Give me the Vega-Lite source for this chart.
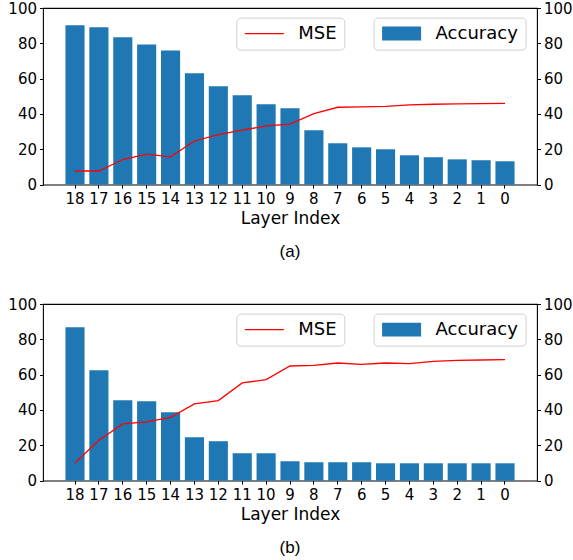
{
  "$schema": "https://vega.github.io/schema/vega-lite/v6.json",
  "padding": {"left": 7, "top": 0, "right": 0, "bottom": 0},
  "background": "white",
  "datasets": {
    "a": [
      {"layer": 18, "acc": 90.2, "mse": 7.7},
      {"layer": 17, "acc": 89.1, "mse": 7.7},
      {"layer": 16, "acc": 83.4, "mse": 14.2},
      {"layer": 15, "acc": 79.4, "mse": 17.2},
      {"layer": 14, "acc": 76.0, "mse": 15.7},
      {"layer": 13, "acc": 63.0, "mse": 24.7},
      {"layer": 12, "acc": 55.7, "mse": 28.3},
      {"layer": 11, "acc": 50.6, "mse": 30.8},
      {"layer": 10, "acc": 45.5, "mse": 33.2},
      {"layer": 9, "acc": 43.2, "mse": 34.3},
      {"layer": 8, "acc": 30.8, "mse": 40.2},
      {"layer": 7, "acc": 23.4, "mse": 43.8},
      {"layer": 6, "acc": 21.1, "mse": 44.0},
      {"layer": 5, "acc": 20.0, "mse": 44.3},
      {"layer": 4, "acc": 16.6, "mse": 45.1},
      {"layer": 3, "acc": 15.5, "mse": 45.5},
      {"layer": 2, "acc": 14.3, "mse": 45.7},
      {"layer": 1, "acc": 13.8, "mse": 45.8},
      {"layer": 0, "acc": 13.2, "mse": 46.0}
    ],
    "b": [
      {"layer": 18, "acc": 86.8, "mse": 10.0},
      {"layer": 17, "acc": 62.5, "mse": 22.8},
      {"layer": 16, "acc": 45.5, "mse": 32.1},
      {"layer": 15, "acc": 44.9, "mse": 33.2},
      {"layer": 14, "acc": 38.7, "mse": 35.8},
      {"layer": 13, "acc": 24.5, "mse": 43.4},
      {"layer": 12, "acc": 22.3, "mse": 45.3},
      {"layer": 11, "acc": 15.5, "mse": 55.3},
      {"layer": 10, "acc": 15.5, "mse": 57.2},
      {"layer": 9, "acc": 10.9, "mse": 64.9},
      {"layer": 8, "acc": 10.4, "mse": 65.3},
      {"layer": 7, "acc": 10.4, "mse": 66.6},
      {"layer": 6, "acc": 10.4, "mse": 65.8},
      {"layer": 5, "acc": 9.8, "mse": 66.6},
      {"layer": 4, "acc": 9.8, "mse": 66.2},
      {"layer": 3, "acc": 9.8, "mse": 67.5},
      {"layer": 2, "acc": 9.8, "mse": 68.1},
      {"layer": 1, "acc": 9.8, "mse": 68.3},
      {"layer": 0, "acc": 9.8, "mse": 68.5}
    ]
  },
  "config": {
    "view": {"stroke": "black", "strokeWidth": 1.1},
    "font": "DejaVu Sans",
    "axis": {
      "labelFont": "DejaVu Sans",
      "labelFontSize": 15,
      "labelColor": "black",
      "tickColor": "black",
      "tickSize": 3.5,
      "tickWidth": 1,
      "labelPadding": 3,
      "domain": false,
      "grid": false,
      "titleFont": "DejaVu Sans",
      "titleFontSize": 17,
      "titleFontWeight": "normal",
      "titleColor": "black"
    },
    "legend": {
      "orient": "none",
      "labelFont": "DejaVu Sans",
      "labelFontSize": 18,
      "labelColor": "black",
      "padding": 7,
      "strokeColor": "#d0d0d0",
      "fillColor": "white",
      "cornerRadius": 4,
      "title": null
    },
    "title": {
      "font": "Liberation Sans",
      "fontSize": 17,
      "fontWeight": "normal",
      "color": "black",
      "orient": "bottom",
      "anchor": "middle",
      "offset": 18
    }
  },
  "vconcat": [
    {
      "title": "(a)",
      "data": {"name": "a"},
      "width": 494,
      "height": 176.6,
      "encoding": {
        "x": {
          "field": "layer", "type": "ordinal", "sort": "descending",
          "scale": {"paddingInner": 0.2, "paddingOuter": 0.94},
          "axis": {"title": "Layer Index", "labelAngle": 0, "titlePadding": 4}
        }
      },
      "layer": [
        {
          "mark": {"type": "bar"},
          "encoding": {
            "y": {"field": "acc", "type": "quantitative", "scale": {"domain": [0, 100]}, "axis": {"orient": "left", "title": null, "values": [0, 20, 40, 60, 80, 100]}},
            "fill": {"datum": "Accuracy", "type": "nominal", "scale": {"range": ["#1f77b4"]},
              "legend": {"legendX": 330.6, "legendY": 9.6, "symbolType": "M-1,-0.93H4.2V0.93H-1Z", "symbolSize": 225, "symbolStrokeWidth": 0, "labelOffset": 37}}
          }
        },
        {
          "mark": {"type": "line", "strokeWidth": 1.3},
          "encoding": {
            "y": {"field": "mse", "type": "quantitative", "scale": {"domain": [0, 100]}, "axis": {"orient": "right", "title": null, "values": [0, 20, 40, 60, 80, 100]}},
            "stroke": {"datum": "MSE", "type": "nominal", "scale": {"range": ["#ff0000"]},
              "legend": {"legendX": 193.3, "legendY": 9.6, "symbolType": "M-1,0H4.2", "symbolSize": 225, "symbolStrokeWidth": 1.3, "labelOffset": 37}}
          }
        }
      ],
      "resolve": {"scale": {"y": "independent"}}
    },
    {
      "title": "(b)",
      "data": {"name": "b"},
      "width": 494,
      "height": 176.6,
      "encoding": {
        "x": {
          "field": "layer", "type": "ordinal", "sort": "descending",
          "scale": {"paddingInner": 0.2, "paddingOuter": 0.94},
          "axis": {"title": "Layer Index", "labelAngle": 0, "titlePadding": 4}
        }
      },
      "layer": [
        {
          "mark": {"type": "bar"},
          "encoding": {
            "y": {"field": "acc", "type": "quantitative", "scale": {"domain": [0, 100]}, "axis": {"orient": "left", "title": null, "values": [0, 20, 40, 60, 80, 100]}},
            "fill": {"datum": "Accuracy", "type": "nominal", "scale": {"range": ["#1f77b4"]},
              "legend": {"legendX": 330.6, "legendY": 9.6, "symbolType": "M-1,-0.93H4.2V0.93H-1Z", "symbolSize": 225, "symbolStrokeWidth": 0, "labelOffset": 37}}
          }
        },
        {
          "mark": {"type": "line", "strokeWidth": 1.3},
          "encoding": {
            "y": {"field": "mse", "type": "quantitative", "scale": {"domain": [0, 100]}, "axis": {"orient": "right", "title": null, "values": [0, 20, 40, 60, 80, 100]}},
            "stroke": {"datum": "MSE", "type": "nominal", "scale": {"range": ["#ff0000"]},
              "legend": {"legendX": 193.3, "legendY": 9.6, "symbolType": "M-1,0H4.2", "symbolSize": 225, "symbolStrokeWidth": 1.3, "labelOffset": 37}}
          }
        }
      ],
      "resolve": {"scale": {"y": "independent"}}
    }
  ],
  "spacing": 35,
  "resolve": {"scale": {"fill": "independent", "stroke": "independent"}, "legend": {"fill": "independent", "stroke": "independent"}}
}
